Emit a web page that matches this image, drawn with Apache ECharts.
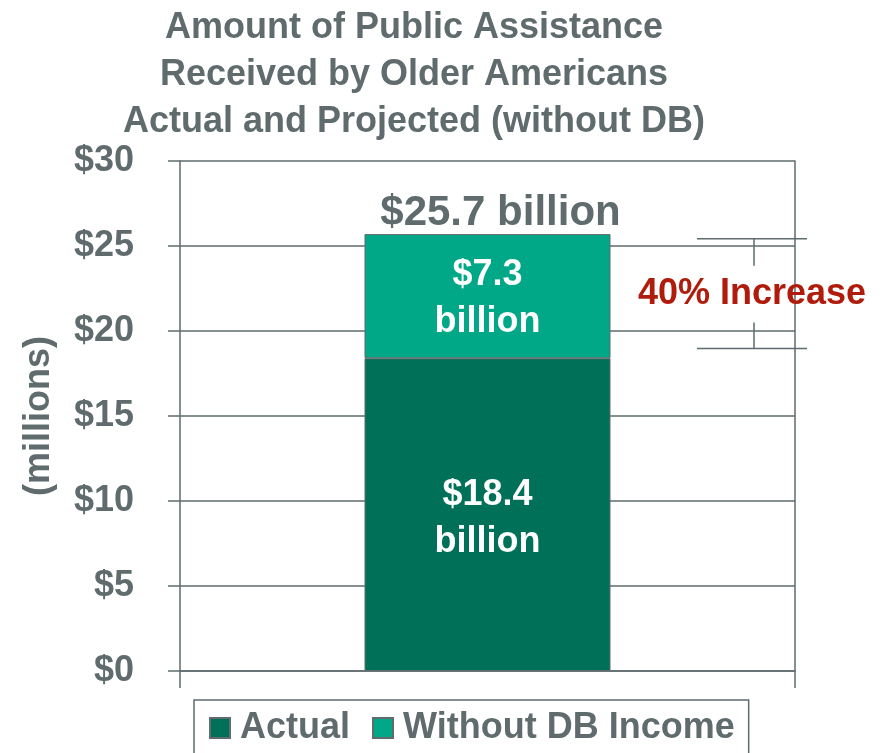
<!DOCTYPE html>
<html><head><meta charset="utf-8">
<script src="https://cdn.jsdelivr.net/npm/echarts@6/dist/echarts.min.js"></script>
<style>html,body{margin:0;padding:0;background:#fff}#c{width:890px;height:753px}</style>
</head><body><div id="c"></div>
<script>
var titleLines = ['Amount of Public Assistance', 'Received by Older Americans', 'Actual and Projected (without DB)'];
var categories = ['Total'];
var actual = [18.4];
var withoutDB = [7.3];
var yTicks = [0, 5, 10, 15, 20, 25, 30];
var seriesNames = ['Actual', 'Without DB Income'];
var annotationText = '40% Increase';
var bracketValues = [18.97, 25.43];

var GRAY = '#5f6b6d', DARK = '#007058', LIGHT = '#00a887', RED = '#b01c0c';
var FONT = '"Liberation Sans", Arial, sans-serif';
var gridL = 180, gridR = 95, gridT = 161, gridB = 82;

var chart = echarts.init(document.getElementById('c'), null, {renderer: 'canvas'});
var total = actual[0] + withoutDB[0];
var axisLS = {color: GRAY, width: 1.5};
chart.setOption({
  animation: false,
  textStyle: {fontFamily: FONT},
  grid: {left: gridL, right: gridR, top: gridT, bottom: gridB},
  legend: {
    data: seriesNames, left: 194, top: 700, orient: 'horizontal',
    padding: [8, 14, 8, 15], itemGap: 22, itemWidth: 20, itemHeight: 20,
    borderColor: GRAY, borderWidth: 1.5, icon: 'rect',
    textStyle: {fontFamily: FONT, fontSize: 36, fontWeight: 'bold', color: GRAY, padding: [0, 0, 0, 5], lineHeight: 40}
  },
  xAxis: {
    type: 'category', data: categories,
    axisLine: {show: true, lineStyle: axisLS},
    axisTick: {show: true, length: 17, lineStyle: axisLS},
    axisLabel: {show: false}
  },
  yAxis: [{
    type: 'value', min: yTicks[0], max: yTicks[yTicks.length - 1], interval: yTicks[1] - yTicks[0],
    name: '(millions)', nameLocation: 'middle', nameRotate: 90, nameGap: 123,
    nameTextStyle: {fontFamily: FONT, fontSize: 36, fontWeight: 'bold', color: GRAY},
    axisLine: {show: true, lineStyle: axisLS},
    axisTick: {show: true, length: 12, lineStyle: axisLS},
    splitLine: {show: true, lineStyle: axisLS},
    axisLabel: {fontFamily: FONT, fontSize: 36, fontWeight: 'bold', color: GRAY, margin: 46,
      formatter: function (v) { return '$' + v; }}
  }, {
    type: 'value', position: 'right', min: yTicks[0], max: yTicks[yTicks.length - 1], interval: yTicks[1] - yTicks[0],
    axisLine: {show: true, lineStyle: axisLS},
    axisTick: {show: false}, axisLabel: {show: false}, splitLine: {show: false}
  }],
  series: [
    {name: seriesNames[0], type: 'bar', stack: 's', data: actual, barWidth: '40%',
     itemStyle: {color: DARK, borderColor: GRAY, borderWidth: 1},
     label: {show: true, position: 'inside', offset: [0, 4], color: '#fff', fontFamily: FONT, fontSize: 36, fontWeight: 'bold', lineHeight: 47,
       formatter: function (p) { return '$' + p.value.toFixed(1) + '\nbillion'; }}},
    {name: seriesNames[1], type: 'bar', stack: 's', data: withoutDB, barWidth: '40%',
     itemStyle: {color: LIGHT, borderColor: GRAY, borderWidth: 1},
     label: {show: true, position: 'inside', offset: [0, 2], color: '#fff', fontFamily: FONT, fontSize: 36, fontWeight: 'bold', lineHeight: 47,
       formatter: function (p) { return '$' + p.value.toFixed(1) + '\nbillion'; }}},
    {name: 'total', type: 'bar', stack: 's', data: [0], barWidth: '40%', itemStyle: {color: 'transparent'},
     label: {show: true, position: 'top', distance: 4, offset: [13, 4], color: GRAY, fontFamily: FONT, fontSize: 42, fontWeight: 'bold',
       formatter: function () { return '$' + total.toFixed(1) + ' billion'; }}}
  ]
});

var yLo = chart.convertToPixel({yAxisIndex: 0}, bracketValues[0]);
var yHi = chart.convertToPixel({yAxisIndex: 0}, bracketValues[1]);
var xR = 890 - gridR;
var x0 = xR - 98, x1 = xR + 12, xm = xR - 41;
var ls = {stroke: GRAY, lineWidth: 1.5};
var tx = 414;
chart.setOption({
  graphic: [
    {type: 'text', x: tx, y: 5, style: {text: titleLines.join('\n'), fill: GRAY, font: 'bold 36px ' + FONT, textAlign: 'center', textVerticalAlign: 'top', lineHeight: 47}},
    {type: 'line', shape: {x1: x0, y1: yHi, x2: x1, y2: yHi}, style: ls},
    {type: 'line', shape: {x1: x0, y1: yLo, x2: x1, y2: yLo}, style: ls},
    {type: 'line', shape: {x1: xm, y1: yHi, x2: xm, y2: yHi + 27}, style: ls},
    {type: 'line', shape: {x1: xm, y1: yLo - 26, x2: xm, y2: yLo}, style: ls},
    {type: 'text', x: xm - 2, y: (yHi + yLo) / 2, z: 10, style: {text: annotationText, fill: RED, font: 'bold 36px ' + FONT, textAlign: 'center', textVerticalAlign: 'middle'}}
  ]
});
</script></body></html>
